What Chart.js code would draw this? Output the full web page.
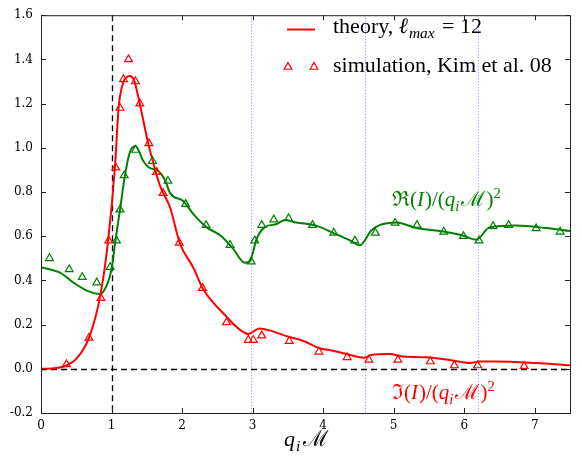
<!DOCTYPE html>
<html>
<head>
<meta charset="utf-8">
<script src="https://cdn.jsdelivr.net/npm/chart.js@4.4.1/dist/chart.umd.min.js"></script>
<style>
    html, body { margin: 0; padding: 0; background: #fff; }
</style>
</head>
<body>
<canvas id="chart" width="582" height="458"></canvas>
<script>
// theory curves (l_max = 12)
const reTheoryX = [0, 0.27, 0.46, 0.65, 0.835, 0.93, 1.0, 1.05, 1.12, 1.19, 1.26, 1.34, 1.45, 1.545, 1.64, 1.76, 1.83, 2.02, 2.16, 2.35, 2.54, 2.72, 2.89, 2.96, 3.06, 3.17, 3.34, 3.46, 3.62, 3.90, 4.14, 4.38, 4.52, 4.68, 4.80, 5.04, 5.32, 5.70, 5.98, 6.17, 6.36, 6.74, 7.16, 7.5];
const reTheoryY = [0.46, 0.435, 0.39, 0.354, 0.339, 0.376, 0.45, 0.567, 0.72, 0.875, 0.98, 1.008, 0.94, 0.908, 0.90, 0.853, 0.795, 0.758, 0.70, 0.64, 0.604, 0.545, 0.48, 0.486, 0.59, 0.64, 0.655, 0.673, 0.662, 0.648, 0.615, 0.581, 0.559, 0.625, 0.65, 0.662, 0.637, 0.621, 0.603, 0.584, 0.64, 0.648, 0.637, 0.623];

const imTheoryX = [0, 0.2, 0.36, 0.5, 0.68, 0.84, 0.95, 1.05, 1.10, 1.17, 1.21, 1.26, 1.32, 1.40, 1.52, 1.615, 1.685, 1.83, 1.97, 2.16, 2.30, 2.63, 2.77, 2.89, 2.94, 3.10, 3.24, 3.48, 3.72, 3.95, 4.09, 4.33, 4.52, 4.58, 4.68, 4.94, 5.13, 5.46, 5.79, 6.08, 6.22, 6.45, 7.02, 7.5];
const imTheoryY = [0, 0.003, 0.015, 0.045, 0.14, 0.33, 0.575, 0.92, 1.18, 1.30, 1.318, 1.325, 1.305, 1.20, 1.02, 0.905, 0.83, 0.73, 0.567, 0.457, 0.36, 0.236, 0.19, 0.162, 0.158, 0.182, 0.174, 0.148, 0.126, 0.093, 0.085, 0.067, 0.052, 0.05, 0.063, 0.067, 0.056, 0.052, 0.04, 0.026, 0.033, 0.033, 0.026, 0.016];

// simulation, Kim et al. 08
const reSimX = [0.12, 0.40, 0.585, 0.79, 0.98, 1.07, 1.12, 1.18, 1.34, 1.58, 1.80, 2.05, 2.34, 2.68, 2.98, 3.03, 3.13, 3.30, 3.51, 3.85, 4.15, 4.45, 4.74, 5.02, 5.33, 5.71, 5.99, 6.21, 6.41, 6.63, 7.02, 7.36];
const reSimY = [0.50, 0.45, 0.415, 0.39, 0.46, 0.58, 0.72, 0.875, 0.99, 0.94, 0.85, 0.745, 0.65, 0.56, 0.485, 0.58, 0.65, 0.675, 0.68, 0.65, 0.615, 0.58, 0.615, 0.66, 0.65, 0.62, 0.60, 0.58, 0.645, 0.65, 0.635, 0.62];

const imSimX = [0.36, 0.68, 0.85, 0.96, 1.06, 1.12, 1.17, 1.24, 1.34, 1.40, 1.53, 1.64, 1.73, 1.96, 2.29, 2.63, 2.94, 3.01, 3.13, 3.52, 3.94, 4.34, 4.65, 5.06, 5.52, 5.86, 6.19, 6.85];
const imSimY = [0.02, 0.14, 0.32, 0.58, 0.91, 1.18, 1.31, 1.40, 1.30, 1.20, 1.02, 0.89, 0.795, 0.57, 0.365, 0.21, 0.13, 0.13, 0.15, 0.125, 0.077, 0.052, 0.04, 0.04, 0.033, 0.015, 0.015, 0.012];

// dotted markers and dashed guides
const criticalX = [2.98, 4.60, 6.20];
const guideX = 1;
const guideY = 0;

const RED = '#ff0000';
const GREEN = '#008000';
const SERIF = '"Liberation Serif", "DejaVu Serif", serif';

function toPoints(xs, ys) {
    return xs.map((x, i) => ({ x: x, y: ys[i] }));
}

function triangle(ctx, cx, cy, r) {
    ctx.beginPath();
    ctx.moveTo(cx, cy - r);
    ctx.lineTo(cx + r * 0.866, cy + r * 0.5);
    ctx.lineTo(cx - r * 0.866, cy + r * 0.5);
    ctx.closePath();
    ctx.stroke();
}

// draw a list of [text, style, extraGap] pieces, style: n normal, i italic, isub, sup
function drawMath(ctx, parts, x, y, size, color) {
    ctx.fillStyle = color;
    ctx.textBaseline = 'alphabetic';
    ctx.textAlign = 'left';
    parts.forEach(([txt, st, gap]) => {
        let fs = size, dy = 0, it = '';
        if (st === 'i') it = 'italic ';
        if (st === 'isub') { fs = size * 0.7; dy = size * 0.22; it = 'italic '; }
        if (st === 'sup') { fs = size * 0.7; dy = -size * 0.4; }
        ctx.font = it + fs + 'px ' + SERIF;
        ctx.fillText(txt, x, y + dy);
        x += ctx.measureText(txt).width + (gap || 0);
    });
}

const decorations = {
    id: 'decorations',
    beforeDatasetsDraw(chart) {
        const { ctx, chartArea: a, scales: { x, y } } = chart;
        ctx.save();
        ctx.lineWidth = 1;
        ctx.strokeStyle = '#8888ff';
        ctx.setLineDash([1, 2]);
        criticalX.forEach(v => {
            const px = Math.round(x.getPixelForValue(v)) + 0.5;
            ctx.beginPath();
            ctx.moveTo(px, a.top);
            ctx.lineTo(px, a.bottom);
            ctx.stroke();
        });
        ctx.strokeStyle = '#000';
        ctx.lineWidth = 1.3;
        ctx.setLineDash([6, 4]);
        const gx = Math.round(x.getPixelForValue(guideX)) + 0.5;
        ctx.beginPath();
        ctx.moveTo(gx, a.top);
        ctx.lineTo(gx, a.bottom);
        ctx.stroke();
        const gy = Math.round(y.getPixelForValue(guideY)) + 0.5;
        ctx.beginPath();
        ctx.moveTo(a.left, gy);
        ctx.lineTo(a.right, gy);
        ctx.stroke();
        ctx.restore();
    },
    afterDraw(chart) {
        const { ctx, chartArea: a, scales: { x, y } } = chart;
        ctx.save();
        // frame + inward ticks on all four sides
        ctx.strokeStyle = '#222';
        ctx.lineWidth = 1;
        ctx.strokeRect(a.left + 0.5, a.top + 0.5, a.right - a.left, a.bottom - a.top);
        ctx.beginPath();
        x.ticks.forEach(t => {
            const px = Math.round(x.getPixelForValue(t.value)) + 0.5;
            ctx.moveTo(px, a.bottom); ctx.lineTo(px, a.bottom - 5);
            ctx.moveTo(px, a.top); ctx.lineTo(px, a.top + 5);
        });
        y.ticks.forEach(t => {
            const py = Math.round(y.getPixelForValue(t.value)) + 0.5;
            ctx.moveTo(a.left, py); ctx.lineTo(a.left + 5, py);
            ctx.moveTo(a.right, py); ctx.lineTo(a.right - 5, py);
        });
        ctx.stroke();

        // legend
        ctx.strokeStyle = RED;
        ctx.lineWidth = 2;
        ctx.beginPath();
        ctx.moveTo(287, 29.5);
        ctx.lineTo(315, 29.5);
        ctx.stroke();
        ctx.lineWidth = 1.2;
        triangle(ctx, 288, 67, 4.5);
        triangle(ctx, 314, 67, 4.5);
        drawMath(ctx, [['theory, ', 'n'], ['\u2113', 'i', 1], ['max', 'isub', 2], [' = 12', 'n']], 333, 33, 22, '#000');
        drawMath(ctx, [['simulation, Kim et al. 08', 'n']], 333, 72, 22, '#000');

        // curve labels
        const label = [['(', 'n'], ['I', 'i', 1], [')/(', 'n'], ['q', 'i'], ['i', 'isub', 2], ['\u2133', 'n', 1], [')', 'n'], ['2', 'sup']];
        drawMath(ctx, [['\u211C', 'n']].concat(label), 392, 206, 21, GREEN);
        drawMath(ctx, [['\u2111', 'n']].concat(label), 392, 399, 21, RED);

        // x axis title
        drawMath(ctx, [['q', 'i', 1], ['i', 'isub', 3], ['\u2133', 'n']], 284, 446, 22, '#000');
        ctx.restore();
    }
};

new Chart(document.getElementById('chart'), {
    type: 'scatter',
    data: {
        datasets: [
            {
                label: 'simulation Im',
                data: toPoints(imSimX, imSimY),
                pointStyle: 'triangle',
                pointRadius: 4.5,
                borderColor: RED,
                backgroundColor: 'rgba(0,0,0,0)',
                borderWidth: 1.2,
            },
            {
                label: 'simulation Re',
                data: toPoints(reSimX, reSimY),
                pointStyle: 'triangle',
                pointRadius: 4.5,
                borderColor: GREEN,
                backgroundColor: 'rgba(0,0,0,0)',
                borderWidth: 1.2,
            },
            {
                label: 'theory Im',
                data: toPoints(imTheoryX, imTheoryY),
                showLine: true,
                pointRadius: 0,
                borderColor: RED,
                borderWidth: 2,
                cubicInterpolationMode: 'monotone',
            },
            {
                label: 'theory Re',
                data: toPoints(reTheoryX, reTheoryY),
                showLine: true,
                pointRadius: 0,
                borderColor: GREEN,
                borderWidth: 2,
                cubicInterpolationMode: 'monotone',
            },
        ],
    },
    options: {
        responsive: false,
        animation: false,
        devicePixelRatio: 1,
        layout: { padding: { top: 5, right: 12, left: 0, bottom: 0 } },
        plugins: {
            legend: { display: false },
            tooltip: { enabled: false },
        },
        scales: {
            x: {
                type: 'linear',
                min: 0,
                max: 7.5,
                grid: { display: false, drawTicks: false },
                border: { display: false },
                ticks: {
                    stepSize: 1,
                    includeBounds: false,
                    padding: 6,
                    color: '#000',
                    font: { family: '"DejaVu Serif"', size: 12 },
                },
                afterFit: scale => { scale.height = 45; },
            },
            y: {
                min: -0.2,
                max: 1.6,
                grid: { display: false, drawTicks: false },
                border: { display: false },
                ticks: {
                    stepSize: 0.2,
                    padding: 8,
                    color: '#000',
                    font: { family: '"DejaVu Serif"', size: 12 },
                    callback: v => v.toFixed(1),
                },
                afterFit: scale => { scale.width = 41; },
            },
        },
    },
    plugins: [decorations],
});
</script>
</body>
</html>
